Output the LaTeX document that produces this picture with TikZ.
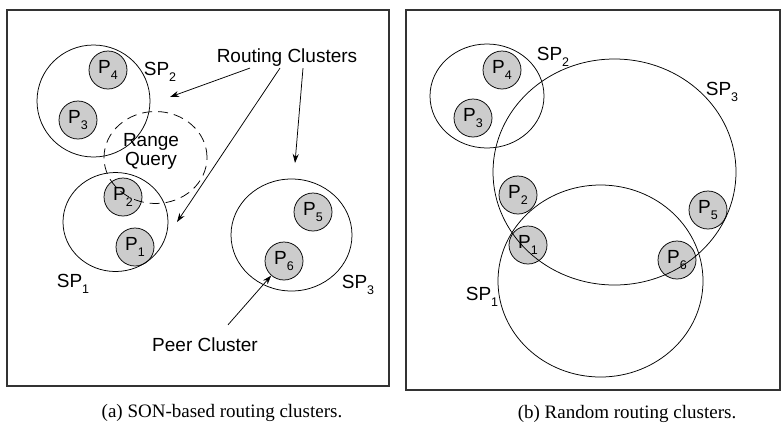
\documentclass[tikz,border=0pt]{standalone}
\usepackage{fontspec}
\setmainfont{Liberation Sans}
\newfontfamily\capfont{Liberation Serif}
\usetikzlibrary{arrows.meta,shapes.geometric}

% subscript of a peer or cluster name
\newcommand{\sbs}[1]{\raisebox{-0.6ex}{\fontsize{12.5}{12.5}\selectfont #1}}

\begin{document}
\begin{tikzpicture}[x=1pt,y=-1pt,
    frame/.style={draw=black!80,line width=1.3pt},
    peer/.style={circle,draw,line width=0.75pt,fill=gray!40,minimum size=38pt,inner sep=0pt,font=\fontsize{19}{19}\selectfont},
    cluster/.style={ellipse,draw,line width=0.75pt,inner sep=0pt},
    lbl/.style={font=\fontsize{19}{21}\selectfont,inner sep=1pt},
    caption/.style={font=\capfont\fontsize{19}{21}\selectfont},
    pointer/.style={-{Stealth[length=9pt,width=6pt]},line width=0.75pt}]
    \useasboundingbox (0,0) rectangle (781,424);

    % (a) SON-based clusters
    \draw[frame] (7,10) rectangle (389,386);

    % Peers - left
    \node[peer] (p4a) at (108,70) {P\sbs{4}};
    \node[peer] (p3a) at (78,120) {P\sbs{3}};
    \node[peer] (p2a) at (123,197) {P\sbs{2}};
    \node[peer] (p1a) at (135,247) {P\sbs{1}};
    \node[peer] (p5a) at (313,212) {P\sbs{5}};
    \node[peer] (p6a) at (284,261) {P\sbs{6}};

    % Clusters - left
    \node[cluster,minimum width=113pt,minimum height=112pt] (sp2a) at (93.5,101) {};
    \node[cluster,minimum width=105pt,minimum height=99pt] (sp1a) at (115.5,222) {};
    \node[cluster,minimum width=121pt,minimum height=112pt] (sp3a) at (291.5,235) {};
    \node[cluster,dashed,dash pattern=on 10pt off 6pt,minimum width=103pt,minimum height=92pt] (rqa) at (155.5,157.5) {};

    % Labels - left
    \node[lbl] (sp2la) at (160,72) {SP\sbs{2}};
    \node[lbl] (sp1la) at (73,284) {SP\sbs{1}};
    \node[lbl] (sp3la) at (358,285) {SP\sbs{3}};
    \node[lbl,align=center] (rqla) at (151,151) {Range\\[-2pt]Query};
    \node[lbl] (rc) at (287,58) {Routing Clusters};
    \node[lbl] (pc) at (205,345) {Peer Cluster};

    % Pointers - left
    \coordinate (t2) at (170,97);
    \coordinate (t1) at (177,222);
    \coordinate (t3) at (295,163);
    \draw[pointer] ([xshift=-37pt]rc.south) -- (t2);
    \draw[pointer] ([xshift=-7pt]rc.south) -- (t1);
    \draw[pointer] ([xshift=16pt]rc.south) -- (t3);
    \draw[pointer] ([shift={(23pt,12pt)}]pc.north) -- (p6a);

    % (b) Random clusters
    \draw[frame] (406,10) rectangle (780,390);

    % Peers - right
    \node[peer] (p4b) at (502,70) {P\sbs{4}};
    \node[peer] (p3b) at (473,118) {P\sbs{3}};
    \node[peer] (p2b) at (518,195) {P\sbs{2}};
    \node[peer] (p1b) at (528,245) {P\sbs{1}};
    \node[peer] (p5b) at (708,210) {P\sbs{5}};
    \node[peer] (p6b) at (677,260) {P\sbs{6}};

    % Clusters - right
    \node[cluster,minimum width=114pt,minimum height=104pt] (sp2b) at (487,96) {};
    \node[cluster,minimum width=243pt,minimum height=226pt] (sp3b) at (614.5,172) {};
    \node[cluster,minimum width=205pt,minimum height=192pt] (sp1b) at (600.5,281) {};

    % Labels - right
    \node[lbl] (sp2lb) at (553,57) {SP\sbs{2}};
    \node[lbl] (sp3lb) at (722,92) {SP\sbs{3}};
    \node[lbl] (sp1lb) at (482,297) {SP\sbs{1}};

    % Captions
    \node[caption] (capa) at (222,413) {(a) SON-based routing clusters.};
    \node[caption] (capb) at (627,414) {(b) Random routing clusters.};
\end{tikzpicture}
\end{document}
